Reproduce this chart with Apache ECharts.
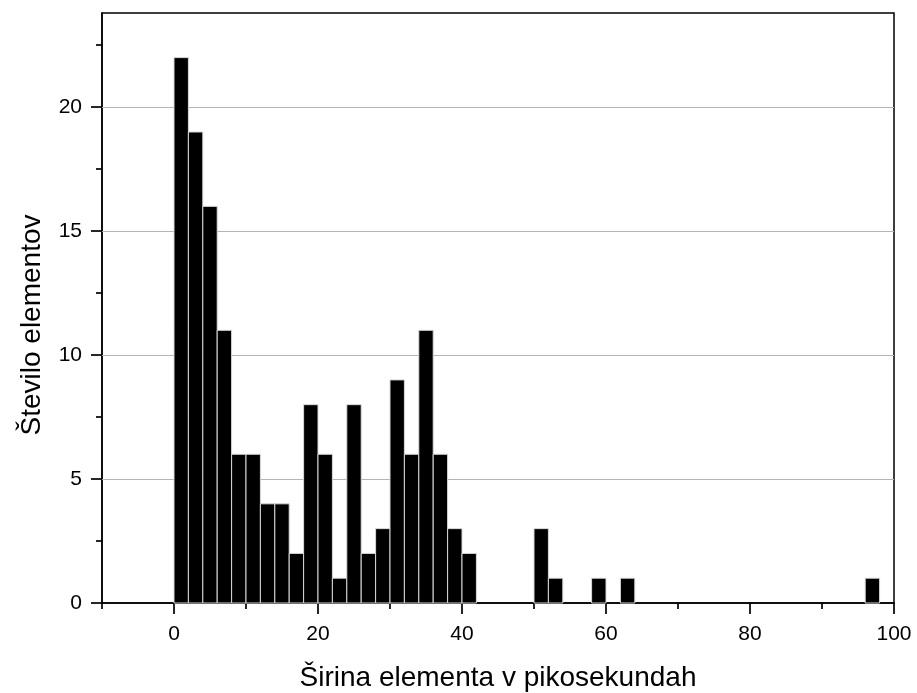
<!DOCTYPE html>
<html>
<head>
<meta charset="utf-8">
<script src="https://cdn.jsdelivr.net/npm/echarts@6/dist/echarts.min.js"></script>
<style>html,body{margin:0;padding:0;background:#fff}#c{width:917px;height:693px}</style>
</head>
<body>
<div id="c"></div>
<script>
const binStart = [0,2,4,6,8,10,12,14,16,18,20,22,24,26,28,30,32,34,36,38,40,50,52,58,62,96];
const counts   = [22,19,16,11,6,6,4,4,2,8,6,1,8,2,3,9,6,11,6,3,2,3,1,1,1,1];
const binWidth = 2;
const xMajorTicks = [0,20,40,60,80,100];
const xMinorTicks = [-10,10,30,50,70,90];
const yMajorTicks = [0,5,10,15,20];
const yMinorTicks = [2.5,7.5,12.5,17.5,22.5];
const xTitle = 'Širina elementa v pikosekundah';
const yTitle = 'Število elementov';

const FONT = 'Liberation Sans, Arial, sans-serif';
const chart = echarts.init(document.getElementById('c'));
const data = binStart.map((s,i)=>[s, counts[i]]);
chart.setOption({
  animation:false,
  grid:{left:102,right:23,top:13,bottom:90,outerBoundsMode:'none',containLabel:false,show:true,borderColor:'#000',borderWidth:1.5,backgroundColor:'transparent'},
  xAxis:[{
    type:'value',min:-10,max:100,
    name:xTitle,nameLocation:'middle',nameGap:61,
    nameTextStyle:{fontFamily:FONT,fontSize:28,color:'#000'},
    axisLine:{show:true,onZero:false,lineStyle:{color:'#000',width:1.5}},
    axisTick:{show:true,length:11,customValues:xMajorTicks,lineStyle:{color:'#000',width:1.7}},
    axisLabel:{customValues:xMajorTicks,fontFamily:FONT,fontSize:21,color:'#000',margin:21},
    splitLine:{show:false}
  },{
    type:'value',min:-10,max:100,position:'bottom',
    axisLine:{show:false,onZero:false},
    axisTick:{show:true,length:6,customValues:xMinorTicks,lineStyle:{color:'#000',width:1.7}},
    axisLabel:{show:false},
    splitLine:{show:false}
  }],
  yAxis:[{
    type:'value',min:0,max:23.8,
    name:yTitle,nameLocation:'middle',nameGap:56,
    nameTextStyle:{fontFamily:FONT,fontSize:28,color:'#000',padding:[0,34,0,0]},
    axisLine:{show:true,onZero:false,lineStyle:{color:'#000',width:1.5}},
    axisTick:{show:true,length:11,customValues:yMajorTicks,lineStyle:{color:'#000',width:1.7}},
    axisLabel:{customValues:yMajorTicks,fontFamily:FONT,fontSize:21,color:'#000',margin:20},
    splitLine:{show:false}
  },{
    type:'value',min:0,max:23.8,position:'left',
    axisLine:{show:false,onZero:false},
    axisTick:{show:true,length:6,customValues:yMinorTicks,lineStyle:{color:'#000',width:1.7}},
    axisLabel:{show:false},
    splitLine:{show:false}
  }],
  series:[{
    type:'custom',
    silent:true,
    z:1,
    renderItem:function(params, api){
      const lines=[];
      yMajorTicks.slice(1).forEach(v=>{
        const p0=api.coord([-10,v]), p1=api.coord([100,v]);
        lines.push({type:'line',shape:{x1:p0[0],y1:Math.round(p0[1])+0.5,x2:p1[0],y2:Math.round(p0[1])+0.5},style:{stroke:'#b4b4b4',lineWidth:1}});
      });
      return params.dataIndex===0?{type:'group',children:lines}:null;
    },
    data:[[0,0]]
  },{
    type:'custom',
    z:2,
    renderItem:function(params, api){
      const s=api.value(0), c=api.value(1);
      const p0=api.coord([s,c]);
      const p1=api.coord([s+binWidth,0]);
      return {type:'rect',shape:{x:p0[0],y:p0[1],width:p1[0]-p0[0],height:p1[1]-p0[1]},
        style:{fill:'#000',stroke:'#d8d8d8',lineWidth:1}};
    },
    encode:{x:0,y:1},
    data:data
  }]
});
</script>
</body>
</html>
